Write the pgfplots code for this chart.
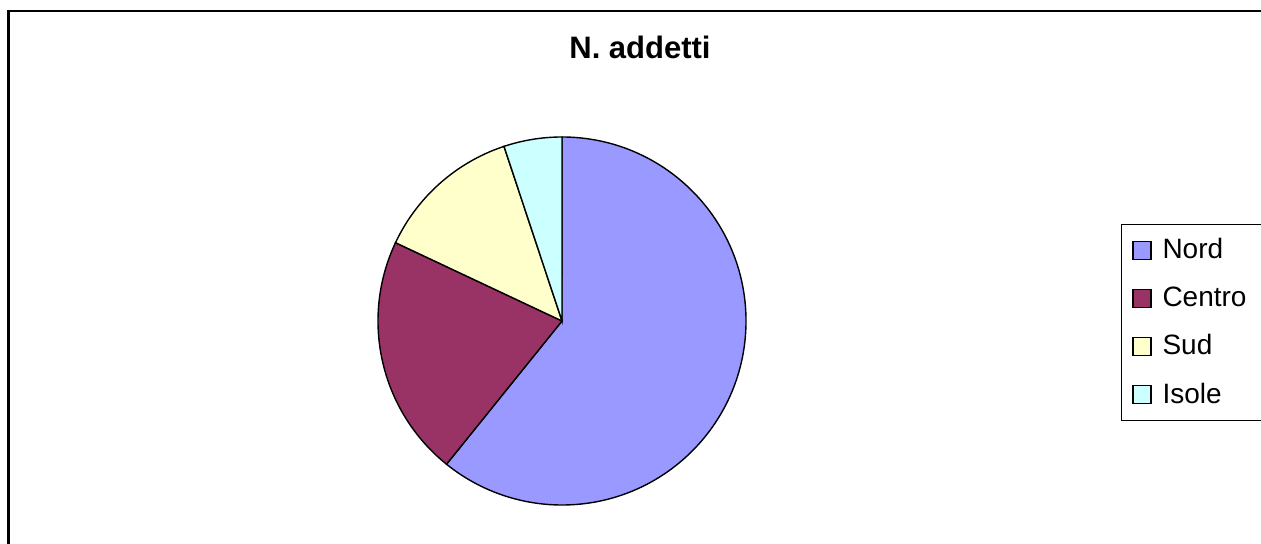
\documentclass[border=0pt]{standalone}
\usepackage{fontspec}
\setmainfont{Liberation Sans}
\usepackage{pgfplots}
\usepackage{pgfplotstable}
\pgfplotsset{compat=1.18}
\definecolor{nordc}{HTML}{9999FF}
\definecolor{centroc}{HTML}{993366}
\definecolor{sudc}{HTML}{FFFFCC}
\definecolor{isolec}{HTML}{CCFFFF}
\pgfplotstableread{
region value
Nord 60.8
Centro 21.2
Sud 12.9
Isole 5.1
}\piedata
\begin{document}
\begin{tikzpicture}
\pgfplotstablegetelem{0}{value}\of\piedata \let\vA\pgfplotsretval
\pgfplotstablegetelem{1}{value}\of\piedata \let\vB\pgfplotsretval
\pgfplotstablegetelem{2}{value}\of\piedata \let\vC\pgfplotsretval
\pgfplotstablegetelem{3}{value}\of\piedata \let\vD\pgfplotsretval
\pgfmathsetmacro\tot{\vA+\vB+\vC+\vD}
\pgfmathsetmacro\aA{90-360*(\vA/\tot)}
\pgfmathsetmacro\aB{\aA-360*(\vB/\tot)}
\pgfmathsetmacro\aC{\aB-360*(\vC/\tot)}
\pgfmathsetmacro\aD{\aC-360*(\vD/\tot)}
\begin{axis}[name=a,
  x=0.5bp, y=0.5bp, xmin=0, xmax=1261, ymin=0, ymax=544,
  hide axis, clip=false,
  legend style={at={(axis cs:1121,320)}, anchor=north west, draw=black,
    line width=0.5bp, font=\fontsize{14bp}{16bp}\selectfont,
    row sep=8.6bp, inner xsep=3bp, inner ysep=5bp,
    nodes={inner xsep=3.5bp}},
  legend cell align=left,
  legend image code/.code={\path (0bp,0bp) (13.5bp,0bp);\draw[#1, line width=0.6bp] (2.5bp,-4.5bp) rectangle (11.5bp,4.5bp);},
]
% frame
\draw[line width=1.1bp, black] (axis cs:8.5,-50) -- (axis cs:8.5,533) -- (axis cs:1300,533);
% pie slices
\filldraw[fill=nordc, draw=black, line width=0.7bp] (axis cs:562,223) -- ++(90:92bp) arc[start angle=90, end angle=\aA, radius=92bp] -- cycle;
\filldraw[fill=centroc, draw=black, line width=0.7bp] (axis cs:562,223) -- ++(\aA:92bp) arc[start angle=\aA, end angle=\aB, radius=92bp] -- cycle;
\filldraw[fill=sudc, draw=black, line width=0.7bp] (axis cs:562,223) -- ++(\aB:92bp) arc[start angle=\aB, end angle=\aC, radius=92bp] -- cycle;
\filldraw[fill=isolec, draw=black, line width=0.7bp] (axis cs:562,223) -- ++(\aC:92bp) arc[start angle=\aC, end angle=\aD, radius=92bp] -- cycle;
% title
\node[anchor=base, font=\fontsize{15.5bp}{18bp}\selectfont\bfseries, inner sep=0pt] at (axis cs:640,485) {N. addetti};
\addlegendimage{fill=nordc, draw=black}
\addlegendentry{Nord}
\addlegendimage{fill=centroc, draw=black}
\addlegendentry{Centro\hspace*{30bp}\mbox{}}
\addlegendimage{fill=sudc, draw=black}
\addlegendentry{Sud}
\addlegendimage{fill=isolec, draw=black}
\addlegendentry{Isole}
\end{axis}
\pgfresetboundingbox
\useasboundingbox (a.south west) rectangle (a.north east);
\end{tikzpicture}
\end{document}
